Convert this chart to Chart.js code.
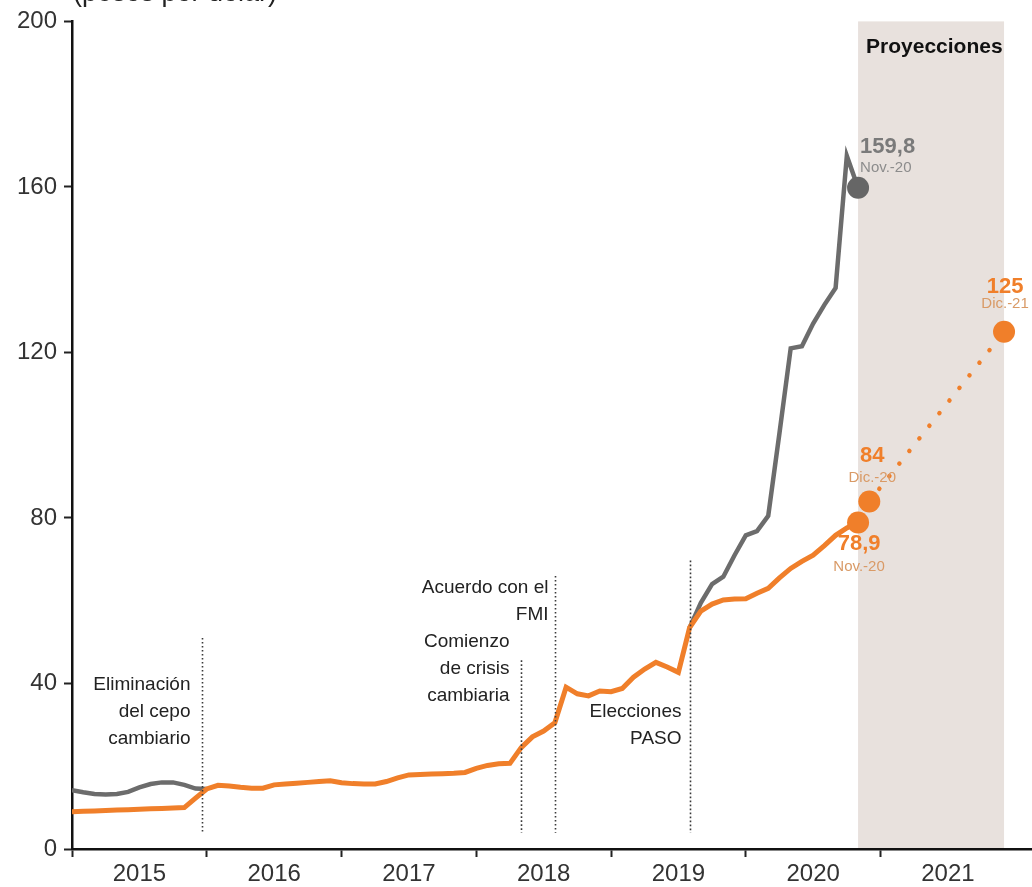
<!DOCTYPE html>
<html>
<head>
<meta charset="utf-8">
<script src="https://cdn.jsdelivr.net/npm/chart.js@4.4.1/dist/chart.umd.min.js"></script>
<style>
  html, body { margin: 0; padding: 0; background: #fff; }
  #wrap { width: 1032px; height: 887px; }
</style>
</head>
<body>
<div id="wrap"><canvas id="tipoCambio" width="1032" height="887"></canvas></div>
<script>
// años del eje x (cada uno ocupa 12 meses, enero 2015 = mes 0)
const years = ['2015', '2016', '2017', '2018', '2019', '2020', '2021'];

// tipo de cambio oficial, promedio mensual, ene-15 .. nov-20
const oficial = [
  9.0, 9.1, 9.2, 9.3, 9.4, 9.5, 9.6, 9.7, 9.8, 9.9, 10.0, 12.3,
  14.5, 15.4, 15.2, 14.9, 14.7, 14.7, 15.5, 15.7, 15.9, 16.1, 16.3, 16.5,
  16.0, 15.8, 15.7, 15.7, 16.3, 17.2, 17.9, 18.0, 18.1, 18.2, 18.3, 18.5,
  19.5, 20.2, 20.6, 20.7, 24.5, 27.1, 28.5, 30.5, 39.1, 37.5, 37.0, 38.2,
  38.0, 38.8, 41.5, 43.5, 45.1, 44.0, 42.7, 53.5, 57.5, 59.2, 60.2, 60.4,
  60.5, 61.8, 63.0, 65.5, 67.8, 69.5, 71.0, 73.3, 75.8, 77.6, 78.9
];

// tipo de cambio paralelo (solo donde se separa del oficial)
const paraleloCepo1 = [14.2, 13.7, 13.3, 13.2, 13.3, 13.8, 14.9, 15.7, 16.1, 16.1, 15.5, 14.6, 14.5];
const paraleloCepo2 = [53.5, 59.5, 64.0, 65.8, 71.0, 75.8, 76.8, 80.5, 100.5, 121.0, 121.5, 127.0, 131.5, 135.6, 167.5, 159.8];
const inicioCepo2 = 55;

// últimos datos y proyecciones
const proyMeses = [70, 71, 83];
const proyValores = [78.9, 84, 125];
const proyTextos = ['78,9', '84', '125'];
const proyFechas = ['Nov.-20', 'Dic.-20', 'Dic.-21'];
const paraleloMes = 70;
const paraleloValor = 159.8;
const paraleloTexto = '159,8';
const paraleloFecha = 'Nov.-20';

// eventos marcados con líneas punteadas
const eventoMeses = [11.55, 40, 43, 55];
const eventoTextos = [
  ['Eliminación', 'del cepo', 'cambiario'],
  ['Comienzo', 'de crisis', 'cambiaria'],
  ['Acuerdo con el', 'FMI'],
  ['Elecciones', 'PASO']
];

const FONT = "'Liberation Sans', Arial, Helvetica, sans-serif";
const ORANGE = '#F07F2A';
const GRAY = '#6C6C6C';

const paralelo = [];
oficial.forEach((_, i) => paralelo.push(null));
paraleloCepo1.forEach((v, i) => { paralelo[i] = v; });
paraleloCepo2.forEach((v, i) => { paralelo[inicioCepo2 + i] = v; });

const pts = arr => arr.map((v, i) => ({ x: i, y: v }));

// estilo de las anotaciones (posiciones en unidades del gráfico)
const eventoEstilo = [
  { top: 51, textY: 39.6, dx: 12 },
  { top: 45.6, textY: 50.2, dx: 12 },
  { top: 66, textY: 63.2, dx: 7 },
  { top: 69.7, textY: 33.1, dx: 9 }
];
const proyEstilo = [
  { dx: 1, dy: 21, dy2: 44, color: ORANGE, color2: '#D99A66' },
  { dx: 3, dy: -45, dy2: -24, color: ORANGE, color2: '#D99A66' },
  { dx: 1, dy: -45, dy2: -28, color: ORANGE, color2: '#D99A66' }
];

const decoraciones = {
  id: 'decoraciones',
  beforeDraw(chart) {
    const { ctx, chartArea, scales: { x, y } } = chart;
    ctx.save();
    ctx.fillStyle = '#E8E1DD';
    const x0 = x.getPixelForValue(proyMeses[0]);
    const x1 = x.getPixelForValue(proyMeses[2]);
    ctx.fillRect(x0, chartArea.top, x1 - x0, chartArea.bottom - chartArea.top);
    ctx.restore();
  },
  afterDatasetsDraw(chart) {
    const { ctx, scales: { x, y } } = chart;
    ctx.save();
    // líneas de eventos
    eventoMeses.forEach((m, k) => {
      const st = eventoEstilo[k];
      const px = Math.round(x.getPixelForValue(m)) + 0.5;
      ctx.strokeStyle = '#3a3a3a';
      ctx.lineWidth = 1.6;
      ctx.setLineDash([1.6, 2.4]);
      ctx.beginPath();
      ctx.moveTo(px, y.getPixelForValue(st.top));
      ctx.lineTo(px, y.getPixelForValue(3.9));
      ctx.stroke();
      ctx.setLineDash([]);
      ctx.fillStyle = '#222';
      ctx.font = '19px ' + FONT;
      ctx.textAlign = 'right';
      ctx.textBaseline = 'middle';
      const ty = y.getPixelForValue(st.textY);
      eventoTextos[k].forEach((t, j) => ctx.fillText(t, px - st.dx, ty + j * 27));
    });

    // etiquetas de valores
    ctx.textAlign = 'center';
    proyMeses.forEach((m, k) => {
      const st = proyEstilo[k];
      const px = x.getPixelForValue(m) + st.dx;
      const py = y.getPixelForValue(proyValores[k]);
      ctx.fillStyle = st.color;
      ctx.font = 'bold 22px ' + FONT;
      ctx.fillText(proyTextos[k], px, py + st.dy);
      ctx.fillStyle = st.color2;
      ctx.font = '15px ' + FONT;
      ctx.fillText(proyFechas[k], px, py + st.dy2);
    });
    const gx = x.getPixelForValue(paraleloMes) + 2;
    const gy = y.getPixelForValue(paraleloValor);
    ctx.textAlign = 'left';
    ctx.fillStyle = '#7A7A7A';
    ctx.font = 'bold 22px ' + FONT;
    ctx.fillText(paraleloTexto, gx, gy - 41);
    ctx.fillStyle = '#8C8C8C';
    ctx.font = '15px ' + FONT;
    ctx.fillText(paraleloFecha, gx, gy - 20);
    ctx.restore();
  },
  afterDraw(chart) {
    const { ctx, scales: { x } } = chart;
    ctx.save();
    ctx.fillStyle = '#111';
    ctx.font = 'bold 21px ' + FONT;
    ctx.textAlign = 'left';
    ctx.textBaseline = 'middle';
    ctx.fillText('Proyecciones', x.getPixelForValue(proyMeses[0]) + 8, 47);
    ctx.fillStyle = '#222';
    ctx.font = '27px ' + FONT;
    ctx.textBaseline = 'alphabetic';
    ctx.fillText('(pesos por dólar)', 73, 0.5);
    ctx.restore();
  }
};

new Chart(document.getElementById('tipoCambio'), {
  type: 'line',
  data: {
    datasets: [
      {
        label: 'marcadores oficial',
        data: proyMeses.map((m, k) => ({ x: m, y: proyValores[k] })),
        showLine: false,
        pointRadius: 11,
        pointBackgroundColor: ORANGE,
        pointBorderWidth: 0
      },
      {
        label: 'marcador paralelo',
        data: [{ x: paraleloMes, y: paraleloValor }],
        showLine: false,
        pointRadius: 11,
        pointBackgroundColor: '#666',
        pointBorderWidth: 0
      },
      {
        label: 'proyección',
        data: proyMeses.slice(1).map((m, k) => ({ x: m, y: proyValores[k + 1] })),
        borderColor: ORANGE,
        borderWidth: 4.5,
        borderDash: [0.1, 16],
        borderCapStyle: 'round',
        pointRadius: 0
      },
      {
        label: 'Oficial',
        data: pts(oficial),
        borderColor: ORANGE,
        borderWidth: 5,
        pointRadius: 0,
        tension: 0
      },
      {
        label: 'Paralelo',
        data: pts(paralelo),
        borderColor: GRAY,
        borderWidth: 4.5,
        pointRadius: 0,
        spanGaps: false,
        tension: 0
      }
    ]
  },
  options: {
    responsive: false,
    animation: false,
    layout: { autoPadding: false, padding: { top: 20, right: 1, left: 0, bottom: 0 } },
    plugins: { legend: { display: false }, tooltip: { enabled: false } },
    scales: {
      x: {
        type: 'linear',
        min: 0,
        max: 85.4,
        afterBuildTicks: s => {
          s.ticks = [];
          for (let v = 0; v <= 78; v += 6) s.ticks.push({ value: v });
        },
        afterFit: s => { s.height = 38; s.paddingLeft = 0; s.paddingRight = 0; },
        grid: {
          drawOnChartArea: false,
          tickLength: 8,
          tickWidth: 2,
          tickColor: c => (c.tick && c.tick.value % 12 === 0) ? '#222' : 'rgba(0,0,0,0)'
        },
        border: { color: '#111', width: 2.5 },
        ticks: {
          autoSkip: false,
          maxRotation: 0,
          padding: 3,
          color: '#333',
          font: { family: FONT, size: 24 },
          callback: v => (v % 12 === 6 ? years[(v - 6) / 12] : '')
        }
      },
      y: {
        min: 0,
        max: 200,
        afterFit: s => { s.width = 72; },
        grid: { drawOnChartArea: false, tickLength: 8, tickWidth: 2, tickColor: '#222' },
        border: { color: '#111', width: 2.5 },
        ticks: {
          stepSize: 40,
          padding: 7,
          color: '#333',
          font: { family: FONT, size: 24 }
        }
      }
    }
  },
  plugins: [decoraciones]
});
</script>
</body>
</html>
